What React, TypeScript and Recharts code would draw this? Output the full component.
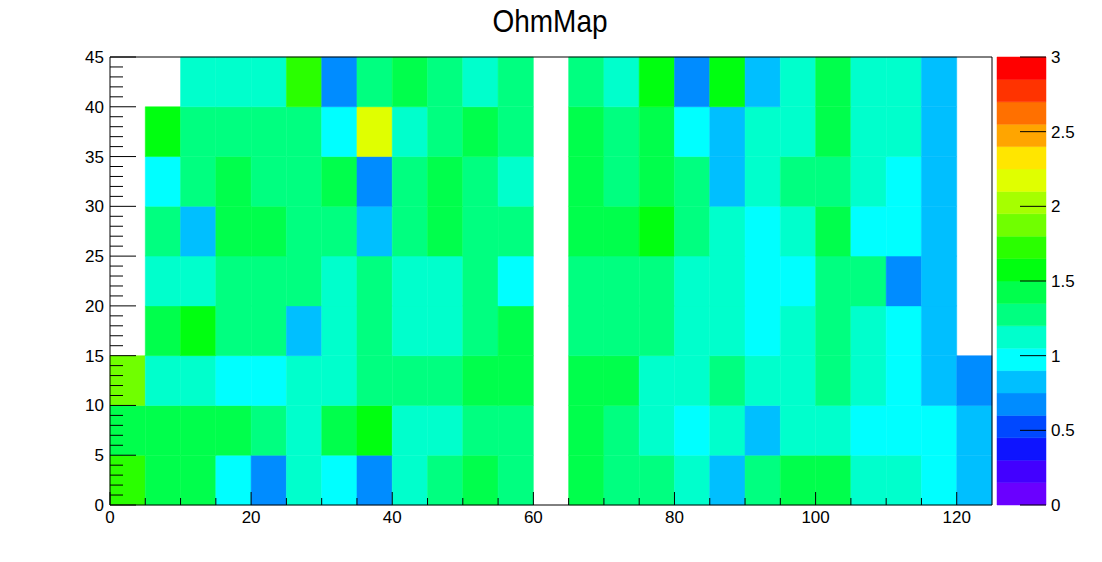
// @ts-nocheck
import { ScatterChart, Scatter, XAxis, YAxis, ReferenceArea } from 'recharts'

const W = 1102
const H = 562
const PLOT = { left: 110, right: 992, top: 57, bottom: 505 }
const PAL = { left: 997, right: 1046 }
const FONT = '"Liberation Sans", Arial, Helvetica, sans-serif'

// bin low edges, bin width 5
const X_EDGES = [0, 5, 10, 15, 20, 25, 30, 35, 40, 45, 50, 55, 60, 65, 70, 75, 80, 85, 90, 95, 100, 105, 110, 115, 120]
const Y_EDGES = [0, 5, 10, 15, 20, 25, 30, 35, 40]
const BIN = 5
const X_RANGE = [0, 125]
const Y_RANGE = [0, 45]

const ROW_00 = [1.72, 1.42, 1.42, 0.98, 0.68, 1.12, 0.98, 0.68, 1.12, 1.28, 1.42, 1.28, null, 1.42, 1.28, 1.28, 1.12, 0.82, 1.28, 1.42, 1.42, 1.12, 1.12, 0.98, 0.82]
const ROW_05 = [1.42, 1.42, 1.42, 1.42, 1.28, 1.12, 1.42, 1.58, 1.12, 1.12, 1.28, 1.28, null, 1.42, 1.28, 1.12, 0.98, 1.12, 0.82, 1.12, 1.12, 0.98, 0.98, 0.98, 0.82]
const ROW_10 = [1.88, 1.12, 1.12, 0.98, 0.98, 1.12, 1.12, 1.28, 1.28, 1.28, 1.42, 1.42, null, 1.42, 1.42, 1.12, 1.12, 1.28, 1.12, 1.12, 1.28, 1.12, 0.98, 0.82, 0.68]
const ROW_15 = [null, 1.42, 1.58, 1.28, 1.28, 0.82, 1.12, 1.28, 1.12, 1.12, 1.28, 1.42, null, 1.28, 1.28, 1.28, 1.12, 1.12, 0.98, 1.12, 1.28, 1.12, 0.98, 0.82, null]
const ROW_20 = [null, 1.12, 1.12, 1.28, 1.28, 1.28, 1.12, 1.28, 1.12, 1.12, 1.28, 0.98, null, 1.28, 1.28, 1.28, 1.12, 1.12, 0.98, 0.98, 1.28, 1.28, 0.68, 0.82, null]
const ROW_25 = [null, 1.28, 0.82, 1.42, 1.42, 1.28, 1.28, 0.82, 1.28, 1.42, 1.28, 1.28, null, 1.42, 1.42, 1.58, 1.28, 1.12, 0.98, 1.12, 1.42, 0.98, 0.98, 0.82, null]
const ROW_30 = [null, 0.98, 1.28, 1.42, 1.28, 1.28, 1.42, 0.68, 1.28, 1.42, 1.28, 1.12, null, 1.42, 1.28, 1.42, 1.28, 0.82, 1.12, 1.28, 1.28, 1.12, 0.98, 0.82, null]
const ROW_35 = [null, 1.58, 1.28, 1.28, 1.28, 1.28, 0.98, 2.18, 1.12, 1.28, 1.42, 1.28, null, 1.42, 1.28, 1.42, 0.98, 0.82, 1.12, 1.12, 1.42, 1.12, 1.12, 0.82, null]
const ROW_40 = [null, null, 1.12, 1.12, 1.12, 1.72, 0.68, 1.28, 1.42, 1.28, 1.12, 1.28, null, 1.28, 1.12, 1.58, 0.68, 1.58, 0.82, 1.12, 1.42, 1.12, 1.12, 0.82, null]
const ROWS = [ROW_00, ROW_05, ROW_10, ROW_15, ROW_20, ROW_25, ROW_30, ROW_35, ROW_40]

// colour palette, 20 contours between Z_MIN and Z_MAX
const Z_MIN = 0
const Z_MAX = 3
const PALETTE = [
  '#6a00ff', '#4200ff', '#0e14ff', '#0048ff', '#008cff',
  '#00bfff', '#00ffff', '#00ffcc', '#00ff80', '#00ff4c',
  '#00ff10', '#2aff00', '#70ff00', '#a6ff00', '#e0ff00',
  '#ffe600', '#ffa500', '#ff7000', '#ff3300', '#ff0000',
]

const X_TICKS = [0, 5, 10, 15, 20, 25, 30, 35, 40, 45, 50, 55, 60, 65, 70, 75, 80, 85, 90, 95, 100, 105, 110, 115, 120]
const Y_TICKS = Array.from({ length: 46 }, (_, i) => i)
const Z_TICKS = [0, 0.5, 1, 1.5, 2, 2.5, 3]

function colorOf(v) {
  const n = PALETTE.length
  let i = Math.floor(((v - Z_MIN) / (Z_MAX - Z_MIN)) * n)
  if (i < 0) i = 0
  if (i > n - 1) i = n - 1
  return PALETTE[i]
}

const cells = []
ROWS.forEach((row, r) =>
  row.forEach((v, c) => {
    if (v == null) return
    cells.push({ x: X_EDGES[c] + BIN / 2, y: Y_EDGES[r] + BIN / 2, x1: X_EDGES[c], y1: Y_EDGES[r], v })
  })
)

const bands = PALETTE.map((color, i) => ({
  color,
  y1: Z_MIN + ((Z_MAX - Z_MIN) * i) / PALETTE.length,
  y2: Z_MIN + ((Z_MAX - Z_MIN) * (i + 1)) / PALETTE.length,
}))

const XTick = ({ x, payload }) => {
  const major = payload.value % 20 === 0
  return (
    <g>
      <line x1={x} x2={x} y1={PLOT.bottom} y2={PLOT.bottom - (major ? 13 : 7)} stroke="#000" />
      {major && (
        <text x={x} y={PLOT.bottom + 18} textAnchor="middle" fontSize={17} fontFamily={FONT} fill="#000">
          {payload.value}
        </text>
      )}
    </g>
  )
}

const YTick = ({ y, payload }) => {
  const major = payload.value % 5 === 0
  return (
    <g>
      <line x1={PLOT.left} x2={PLOT.left + (major ? 26 : 13)} y1={y} y2={y} stroke="#000" />
      {major && (
        <text x={PLOT.left - 6} y={y + 6} textAnchor="end" fontSize={17} fontFamily={FONT} fill="#000">
          {payload.value}
        </text>
      )}
    </g>
  )
}

const ZTick = ({ y, payload }) => (
  <g>
    <line x1={PAL.right - 26} x2={PAL.right} y1={y} y2={y} stroke="#000" />
    <text x={PAL.right + 5} y={y + 6} textAnchor="start" fontSize={17} fontFamily={FONT} fill="#000">
      {payload.value}
    </text>
  </g>
)

export default function App() {
  return (
    <div style={{ position: 'absolute', left: 0, top: 0, width: W, height: H, background: '#fff' }}>
      <svg width={W} height={45} style={{ position: 'absolute', left: 0, top: 0 }}>
        <text transform={`translate(${(PLOT.left + PLOT.right) / 2 - 1}, 32) scale(1, 1.15)`} textAnchor="middle"
          fontSize={28} fontFamily={FONT} fill="#000">
          OhmMap
        </text>
      </svg>

      <div style={{ position: 'absolute', left: 0, top: 0 }}>
        <ScatterChart
          width={W}
          height={H}
          margin={{ top: PLOT.top, right: W - PLOT.right, bottom: H - PLOT.bottom - 30, left: PLOT.left - 50 }}
        >
          {cells.map((d, i) => (
            <ReferenceArea
              key={i}
              x1={d.x1}
              x2={d.x1 + BIN}
              y1={d.y1}
              y2={d.y1 + BIN}
              fill={colorOf(d.v)}
              fillOpacity={1}
              stroke={colorOf(d.v)}
              strokeWidth={0.5}
            />
          ))}
          <XAxis type="number" dataKey="x" domain={X_RANGE} ticks={X_TICKS} interval={0}
            tick={(p) => <XTick {...p} />} tickLine={false} axisLine={false} height={30} allowDataOverflow />
          <YAxis type="number" dataKey="y" domain={Y_RANGE} ticks={Y_TICKS} interval={0}
            tick={(p) => <YTick {...p} />} tickLine={false} axisLine={false} width={50} allowDataOverflow />
          <Scatter data={cells} isAnimationActive={false} shape={() => <g />} />
          <ReferenceArea x1={X_RANGE[0]} x2={X_RANGE[1]} y1={Y_RANGE[0]} y2={Y_RANGE[1]}
            fill="none" fillOpacity={0} stroke="#000" strokeWidth={1} />
        </ScatterChart>
      </div>

      <div style={{ position: 'absolute', left: 0, top: 0 }}>
        <ScatterChart
          width={W}
          height={H}
          margin={{ top: PLOT.top, right: W - PAL.right - 50, bottom: H - PLOT.bottom, left: PAL.left }}
        >
          {bands.map((b, i) => (
            <ReferenceArea key={i} x1={0} x2={1} y1={b.y1} y2={b.y2}
              fill={b.color} fillOpacity={1} stroke={b.color} strokeWidth={0.5} />
          ))}
          <XAxis type="number" dataKey="x" domain={[0, 1]} hide />
          <YAxis type="number" dataKey="y" orientation="right" domain={[Z_MIN, Z_MAX]} ticks={Z_TICKS} interval={0}
            tick={(p) => <ZTick {...p} />} tickLine={false} axisLine={false} width={50} />
          <Scatter data={bands.map((b) => ({ x: 0.5, y: (b.y1 + b.y2) / 2 }))} isAnimationActive={false} shape={() => <g />} />
        </ScatterChart>
      </div>
    </div>
  )
}
